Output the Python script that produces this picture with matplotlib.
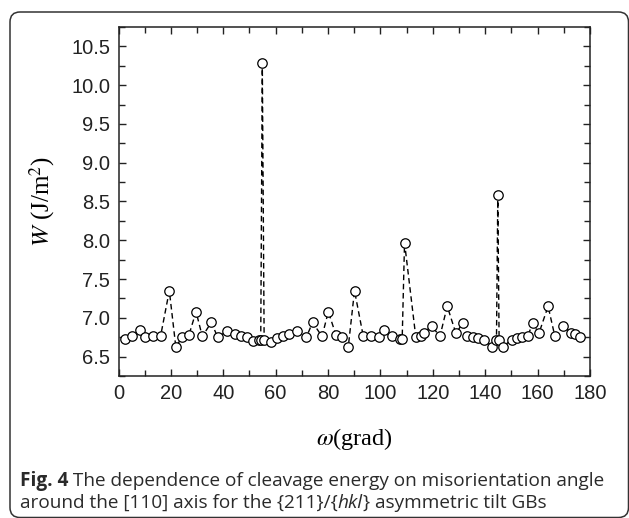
import matplotlib
matplotlib.use('Agg')
import matplotlib.pyplot as plt
from matplotlib.patches import FancyBboxPatch
from matplotlib.ticker import MultipleLocator, FormatStrFormatter

omega = [2.5, 5.3, 8.2, 10.1, 13.3, 16.1, 19.4, 21.9, 24.2, 26.9, 29.6, 32.0, 35.4, 37.9,
         41.5, 44.5, 46.6, 48.9, 51.5, 53.5, 54.3, 54.9, 55.6, 58.2, 60.6, 62.7, 65.0, 68.2,
         71.7, 74.1, 77.7, 80.1, 83.0, 85.3, 87.7, 90.1, 93.4, 96.4, 99.4, 101.5, 104.3,
         107.4, 108.3, 109.2, 113.5, 115.5, 116.8, 119.5, 122.7, 125.5, 128.8, 131.4, 133.1,
         135.2, 137.3, 139.5, 142.7, 144.3, 144.8, 145.3, 146.9, 150.1, 152.0, 153.9, 156.2,
         158.1, 160.5, 164.0, 166.6, 169.8, 172.6, 174.1, 176.1]
W = [6.73, 6.77, 6.84, 6.75, 6.76, 6.77, 7.35, 6.62, 6.75, 6.78, 7.08, 6.76, 6.94, 6.75,
     6.83, 6.79, 6.76, 6.75, 6.70, 6.72, 6.71, 10.28, 6.72, 6.69, 6.74, 6.76, 6.79, 6.83,
     6.75, 6.94, 6.76, 7.08, 6.78, 6.75, 6.62, 7.35, 6.77, 6.76, 6.75, 6.84, 6.77,
     6.73, 6.73, 7.97, 6.75, 6.77, 6.81, 6.90, 6.76, 7.15, 6.80, 6.93, 6.76,
     6.75, 6.74, 6.72, 6.63, 6.72, 8.58, 6.72, 6.63, 6.72, 6.74, 6.75, 6.76,
     6.93, 6.80, 7.15, 6.76, 6.90, 6.81, 6.79, 6.75]

caption1 = [("Fig. 4", "bold", "normal"),
            (" The dependence of cleavage energy on misorientation angle", "normal", "normal")]
caption2 = [("around the [110] axis for the {211}/{", "normal", "normal"),
            ("hkl", "normal", "italic"),
            ("} asymmetric tilt GBs", "normal", "normal")]

plt.rcParams['mathtext.fontset'] = 'stix'

fig = plt.figure(figsize=(6.29, 5.18), dpi=100)
W_px, H_px = 629, 518
ax = fig.add_axes([118.5 / W_px, 1 - 376 / H_px, (590 - 118.5) / W_px, (376 - 27) / H_px])

ax.plot(omega, W, linestyle=(0, (4, 2.6)), color='k', lw=1.0, marker='o', ms=6.8,
        mfc='white', mec='k', mew=0.9)

ax.set_xlim(0, 180)
ax.set_ylim(6.25, 10.75)
ax.xaxis.set_major_locator(MultipleLocator(20))
ax.xaxis.set_minor_locator(MultipleLocator(10))
ax.yaxis.set_major_locator(MultipleLocator(0.5))
ax.yaxis.set_minor_locator(MultipleLocator(0.25))
ax.yaxis.set_major_formatter(FormatStrFormatter('%.1f'))
ax.tick_params(which='both', direction='in', top=True, right=True, width=1.0, colors='#222222')
ax.tick_params(which='major', length=5, labelsize=14.5, pad=6)
ax.tick_params(which='minor', length=4)
for lab in ax.get_xticklabels() + ax.get_yticklabels():
    lab.set_fontfamily('Liberation Sans')
for s in ax.spines.values():
    s.set_linewidth(1.1)
    s.set_color('#222222')

ax.set_xlabel(r'$\omega$(grad)', fontfamily='Liberation Serif', fontsize=17.5, labelpad=16)
ax.set_ylabel(r'$W$ (J/m$^2$)', fontfamily='Liberation Serif', fontsize=18, labelpad=10)

# frame
box = FancyBboxPatch((10 / 100, (518 - 517.5) / 100), (628.5 - 10) / 100, (517.5 - 12) / 100,
                     boxstyle='round,pad=0,rounding_size=0.1', transform=fig.dpi_scale_trans,
                     fill=False, edgecolor='#333333', linewidth=1.1, clip_on=False)
fig.patches.append(box)

fig.canvas.draw()
renderer = fig.canvas.get_renderer()

def chain(parts, x0, y0, size=13.7):
    x = x0
    for txt, weight, style in parts:
        t = fig.text(x, y0, txt, fontsize=size, fontweight=weight, fontstyle=style,
                     fontfamily='Open Sans', color='#2a2a2a', ha='left', va='center',
                     transform=None)
        bb = t.get_window_extent(renderer)
        x = bb.x1

chain(caption1, 20, H_px - 481)
chain(caption2, 20, H_px - 503)

fig.savefig('out.png', dpi=100)
